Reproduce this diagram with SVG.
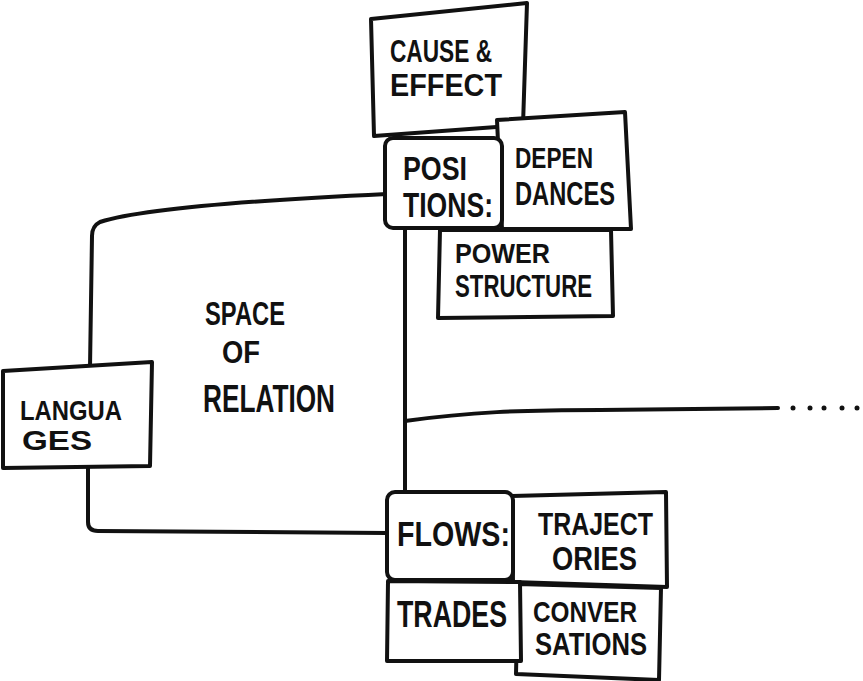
<svg xmlns="http://www.w3.org/2000/svg" width="863" height="681" viewBox="0 0 863 681">
<style>
.box{fill:#fff;stroke:#111;stroke-width:4;stroke-linejoin:round}
.ln{fill:none;stroke:#111;stroke-width:4;stroke-linecap:round;stroke-linejoin:round}
.t{font-family:"Liberation Sans",Arial,sans-serif;fill:#111;font-weight:bold}
</style>
<rect width="863" height="681" fill="#fff"/>
<g id="space-of-relation">
<path class="ln" d="M387,194 C300,198 150,206 100,222 Q92,226 92,236 L90,368 M88,468 L88,522 Q88,531 98,531 L387,533"/>
<text class="t" x="205" y="325" font-size="33" textLength="80" lengthAdjust="spacingAndGlyphs">SPACE</text>
<text class="t" x="222" y="363" font-size="31" textLength="38" lengthAdjust="spacingAndGlyphs">OF</text>
<text class="t" x="203" y="412" font-size="38" textLength="132" lengthAdjust="spacingAndGlyphs">RELATION</text>
</g>
<g id="connectors">
<path class="ln" d="M405,228 L405,492"/>
<path class="ln" d="M405,421 C470,412 520,410 600,410 C680,409 740,408 778,408"/>
<g fill="#111">
<circle cx="793" cy="408" r="2.5"/>
<circle cx="810" cy="408" r="2.5"/>
<circle cx="824" cy="408" r="2.5"/>
<circle cx="842" cy="408" r="2.5"/>
<circle cx="857" cy="408" r="2.5"/>
</g>
</g>
<g id="languages">
<path class="box" d="M3,371 L152,362 L150,466 L3,468 Z"/>
<text class="t" x="20" y="420" font-size="28" textLength="102" lengthAdjust="spacingAndGlyphs">LANGUA</text>
<text class="t" x="22" y="450" font-size="27" textLength="70" lengthAdjust="spacingAndGlyphs">GES</text>
</g>
<g id="cause-effect">
<path class="box" d="M371,19 L527,3 L523,125 L374,136 Z"/>
<text class="t" x="390" y="62" font-size="31" textLength="102" lengthAdjust="spacingAndGlyphs">CAUSE &amp;</text>
<text class="t" x="390" y="96" font-size="31" textLength="112" lengthAdjust="spacingAndGlyphs">EFFECT</text>
</g>
<g id="dependances">
<path class="box" d="M497,120 L625,112 L631,229 L502,229 Z"/>
<text class="t" x="515" y="168" font-size="29" textLength="78" lengthAdjust="spacingAndGlyphs">DEPEN</text>
<text class="t" x="515" y="205" font-size="34" textLength="100" lengthAdjust="spacingAndGlyphs">DANCES</text>
</g>
<g id="positions">
<rect class="box" x="385" y="138" width="117" height="90" rx="8"/>
<text class="t" x="403" y="180" font-size="34" textLength="64" lengthAdjust="spacingAndGlyphs">POSI</text>
<text class="t" x="403" y="217" font-size="35" textLength="90" lengthAdjust="spacingAndGlyphs">TIONS:</text>
</g>
<g id="power-structure">
<path class="box" d="M440,230 L611,230 L613,316 L438,318 Z"/>
<text class="t" x="455" y="263" font-size="28" textLength="95" lengthAdjust="spacingAndGlyphs">POWER</text>
<text class="t" x="455" y="297" font-size="31" textLength="137" lengthAdjust="spacingAndGlyphs">STRUCTURE</text>
</g>
<g id="trajectories">
<path class="box" d="M512,496 L666,492 L667,587 L513,582 Z"/>
<text class="t" x="538" y="535" font-size="31" textLength="115" lengthAdjust="spacingAndGlyphs">TRAJECT</text>
<text class="t" x="552" y="570" font-size="33" textLength="85" lengthAdjust="spacingAndGlyphs">ORIES</text>
</g>
<g id="conversations">
<path class="box" d="M518,584 L661,588 L659,680 L516,674 Z"/>
<text class="t" x="533" y="622" font-size="30" textLength="104" lengthAdjust="spacingAndGlyphs">CONVER</text>
<text class="t" x="535" y="655" font-size="31" textLength="112" lengthAdjust="spacingAndGlyphs">SATIONS</text>
</g>
<g id="trades">
<path class="box" d="M388,581 L520,582 L521,661 L387,661 Z"/>
<text class="t" x="397" y="627" font-size="36" textLength="110" lengthAdjust="spacingAndGlyphs">TRADES</text>
</g>
<g id="flows">
<rect class="box" x="387" y="492" width="126" height="88" rx="8"/>
<text class="t" x="397" y="546" font-size="35" textLength="113" lengthAdjust="spacingAndGlyphs">FLOWS:</text>
</g>
</svg>
